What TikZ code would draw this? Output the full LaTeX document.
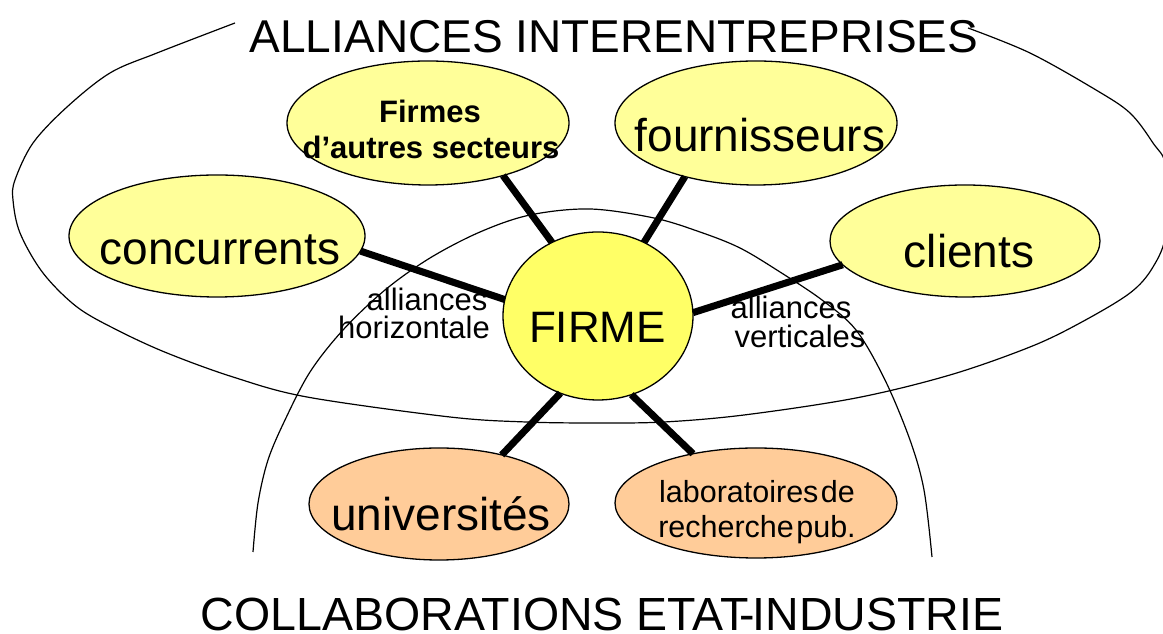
\documentclass[tikz,border=0pt]{standalone}
\usepackage{fontspec}
\setmainfont{Liberation Sans}
\usetikzlibrary{shapes.geometric}
\definecolor{paleyel}{HTML}{FFFF99}
\definecolor{firmyel}{HTML}{FFFF66}
\definecolor{peach}{HTML}{FFCC99}
\begin{document}
\begin{tikzpicture}[x=1pt,y=1pt,
  oval/.style={ellipse, draw=black, line width=1.3pt, inner sep=0pt, outer sep=0pt},
  link/.style={line width=7pt},
  curve/.style={line width=1.2pt},
  lbl/.style={anchor=base, inner sep=0pt, outer sep=0pt},
  big/.style={font=\fontsize{46}{50}\selectfont},
  small/.style={font=\fontsize{31}{34}\selectfont}]
\useasboundingbox (0,0) rectangle (1163,634);
\clip (0,0) rectangle (1163,634);
% outer loop (alliances interentreprises)
\draw[curve] plot[smooth, tension=0.55] coordinates {(235,611) (157,581) (110,561) (67,527) (33,491) (15,454) (13,434) (20,401) (43,361) (77,327) (117,304) (167,281) (233,257) (307,237) (450,217) (526,212) (597,211) (664,212) (744,219) (856,236) (950,259) (1030,287) (1080,311) (1130,341) (1153,367) (1166,401) (1166,467) (1153,491) (1130,521) (1096,544) (1030,581) (968,606)};
% arch (collaborations etat-industrie)
\draw[curve] plot[smooth, tension=0.55] coordinates {(253,82) (258,131) (268,174) (285,214) (310,262) (343,304) (385,344) (430,376) (480,402) (530,419) (590,425) (654,416) (700,402) (740,386) (780,362) (822,334) (856,304) (885,254) (910,194) (924,144) (932,77)};
% ellipses
\node[oval, fill=firmyel, minimum width=190pt, minimum height=168pt] (firme) at (598,318) {};
\node[oval, fill=paleyel, minimum width=296pt, minimum height=122pt] (conc) at (217,398) {};
\node[oval, fill=paleyel, minimum width=282pt, minimum height=124pt] (autres) at (428,511) {};
\node[oval, fill=paleyel, minimum width=282pt, minimum height=124pt] (fourn) at (756,511) {};
\node[oval, fill=paleyel, minimum width=270pt, minimum height=112pt] (clients) at (965,393) {};
\node[oval, fill=peach, minimum width=260pt, minimum height=112pt] (univ) at (439,130) {};
\node[oval, fill=peach, minimum width=282pt, minimum height=110pt] (labo) at (756,131) {};
% connectors
\draw[link] (conc.-6.5) -- (firme.170.6);
\draw[link] (autres.-35) -- (firme.122);
\draw[link] (fourn.217) -- (firme.58);
\draw[link] (clients.191) -- (firme.2.4);
\draw[link] (univ.38) -- (firme.244);
\draw[link] (labo.142) -- (firme.293);
% texts
\node[lbl, font=\fontsize{46}{50}\selectfont] (titletop) at (614,581) {ALLIANCES INTERENTREPRISES};
\node[lbl, font=\fontsize{46.5}{50}\selectfont] (titlebot) at (602,3) {COLLABORATIONS ETAT\kern-0.2em-\kern-0.05em INDUSTRIE};
\node[lbl, big] (tconc) at (220,369) {concurrents};
\node[lbl, font=\bfseries\fontsize{31}{34}\selectfont] (tautres1) at (430,511) {Firmes};
\node[lbl, font=\bfseries\fontsize{31}{34}\selectfont] (tautres2) at (431,475) {d’autres secteurs};
\node[lbl, big] (tfourn) at (760,482) {fournisseurs};
\node[lbl, big] (tclients) at (969,366) {clients};
\node[lbl, font=\fontsize{44}{48}\selectfont] (tfirme) at (597.5,291) {FIRME};
\node[lbl, big] (tuniv) at (441,103) {universités};
\node[lbl, font=\fontsize{30.5}{33}\selectfont] (tlabo1) at (757,131) {laboratoires\hspace{0.08em}de};
\node[lbl, font=\fontsize{30.5}{33}\selectfont] (tlabo2) at (757,96) {recherche\hspace{0.08em}pub.};
\node[lbl, small] (thor1) at (427,323) {alliances};
\node[lbl, small] (thor2) at (414,295) {horizontale};
\node[lbl, small] (tver1) at (791,315) {alliances};
\node[lbl, small] (tver2) at (800,286) {verticales};
\end{tikzpicture}
\end{document}
